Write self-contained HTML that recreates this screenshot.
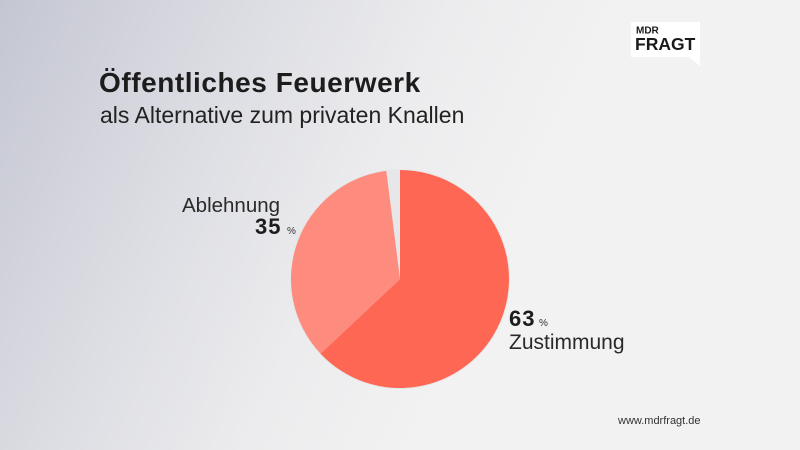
<!DOCTYPE html>
<html>
<head>
<meta charset="utf-8">
<style>
  html,body{margin:0;padding:0;}
  body{width:800px;height:450px;overflow:hidden;position:relative;
    background:linear-gradient(115deg,#c4c6d2 0%,#dcdde3 25%,#ececee 45%,#f2f2f2 62%,#f2f2f2 100%);
    font-family:"Liberation Sans",sans-serif;}
  .t{position:absolute;white-space:nowrap;}
</style>
</head>
<body>
<svg width="800" height="450" style="position:absolute;left:0;top:0">
  <!-- logo -->
  <polygon points="631,22 700,22 700,66 689,57 631,57" fill="#ffffff"/>
  <text x="636" y="33.5" font-family="Liberation Sans" font-weight="bold" font-size="10" fill="#1a1a1a">MDR</text>
  <text x="635" y="50" font-family="Liberation Sans" font-weight="bold" font-size="17.5" fill="#1a1a1a">FRAGT</text>

  <!-- pie -->
  <circle cx="400" cy="279" r="110" fill="#e7e7e9"/>
  <path d="M400,279 L400,170 A109,109 0 1,1 320.5,353.6 Z" fill="#fe6754"/>
  <path d="M400,279 L320.5,353.6 A109,109 0 0,1 386.3,170.9 Z" fill="#fd8c7e"/>

  <!-- title -->
  <text x="99" y="92" font-family="Liberation Sans" font-weight="bold" font-size="28" letter-spacing="0.55" fill="#1c1c1c">Öffentliches Feuerwerk</text>
  <text x="100" y="123" font-family="Liberation Sans" font-size="23" fill="#222222">als Alternative zum privaten Knallen</text>

  <!-- labels -->
  <text x="182" y="212" font-family="Liberation Sans" font-size="20.5" fill="#2a2a2a">Ablehnung</text>
  <text x="255" y="234" font-family="Liberation Sans" font-weight="bold" font-size="22" letter-spacing="1" fill="#1c1c1c">35</text>
  <text x="287" y="234" font-family="Liberation Sans" font-size="10" fill="#333">%</text>

  <text x="509" y="326" font-family="Liberation Sans" font-weight="bold" font-size="22" letter-spacing="1" fill="#1c1c1c">63</text>
  <text x="539" y="326" font-family="Liberation Sans" font-size="10" fill="#333">%</text>
  <text x="509" y="349" font-family="Liberation Sans" font-size="21" fill="#2a2a2a">Zustimmung</text>

  <text x="618" y="424" font-family="Liberation Sans" font-size="11" fill="#333333">www.mdrfragt.de</text>
</svg>
</body>
</html>
